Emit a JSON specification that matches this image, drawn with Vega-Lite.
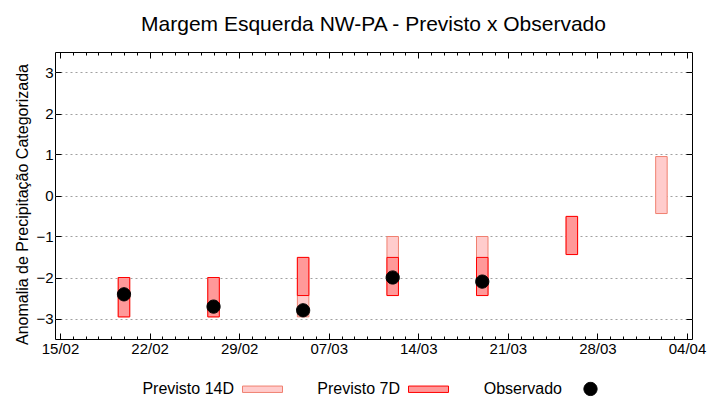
{
  "$schema": "https://vega.github.io/schema/vega-lite/v6.json",
  "width": 637,
  "height": 287,
  "autosize": {"type": "none"},
  "padding": {"left": 55, "top": 52, "right": 28, "bottom": 61},
  "background": "white",
  "title": {
    "text": "Margem Esquerda NW-PA - Previsto x Observado",
    "font": "Liberation Sans",
    "fontSize": 21,
    "fontWeight": "normal",
    "color": "black",
    "anchor": "middle",
    "baseline": "alphabetic",
    "offset": 0
  },
  "config": {
    "view": {"stroke": "black", "strokeWidth": 1},
    "axis": {
      "labelFont": "Liberation Sans",
      "labelFontSize": 15,
      "labelColor": "black",
      "titleFont": "Liberation Sans",
      "titleFontSize": 16,
      "titleFontWeight": "normal",
      "titleColor": "black",
      "tickColor": "black",
      "tickWidth": 1,
      "domain": false
    }
  },
  "layer": [
    {
      "data": {
        "values": [
          {"data": "2016-02-20", "serie": "Previsto 14D", "min": -2.96, "max": -2.0},
          {"data": "2016-02-27", "serie": "Previsto 14D", "min": -2.96, "max": -2.0},
          {"data": "2016-03-05", "serie": "Previsto 14D", "min": -2.96, "max": -1.51},
          {"data": "2016-03-12", "serie": "Previsto 14D", "min": -2.44, "max": -1.0},
          {"data": "2016-03-19", "serie": "Previsto 14D", "min": -2.44, "max": -1.0},
          {"data": "2016-03-26", "serie": "Previsto 14D", "min": -1.44, "max": -0.51},
          {"data": "2016-04-02", "serie": "Previsto 14D", "min": -0.44, "max": 0.95},
          {"data": "2016-02-20", "serie": "Previsto 7D", "min": -2.96, "max": -2.0},
          {"data": "2016-02-27", "serie": "Previsto 7D", "min": -2.96, "max": -2.0},
          {"data": "2016-03-05", "serie": "Previsto 7D", "min": -2.44, "max": -1.51},
          {"data": "2016-03-12", "serie": "Previsto 7D", "min": -2.44, "max": -1.51},
          {"data": "2016-03-19", "serie": "Previsto 7D", "min": -2.44, "max": -1.51},
          {"data": "2016-03-26", "serie": "Previsto 7D", "min": -1.44, "max": -0.51}
        ]
      },
      "mark": {"type": "bar", "size": 11.5, "strokeWidth": 1, "opacity": 1},
      "encoding": {
        "x": {
          "field": "data",
          "type": "temporal",
          "scale": {
            "type": "utc",
            "domain": [
              {"year": 2016, "month": 2, "date": 15, "utc": true},
              {"year": 2016, "month": 4, "date": 4, "utc": true}
            ]
          },
          "axis": {
            "orient": "bottom",
            "title": null,
            "tickCount": {"interval": "day", "step": 1},
            "labelExpr": "(round((datum.value - utc(2016,1,15))/864e5) % 7 == 0) ? utcFormat(datum.value, '%d/%m') : ''",
            "tickSize": {
              "condition": {"test": "round((datum.value - utc(2016,1,15))/864e5) % 7 == 0", "value": -6},
              "value": -3
            },
            "labelPadding": 8,
            "labelOverlap": false,
            "labelFlush": false,
            "grid": false
          }
        },
        "y": {
          "field": "min",
          "type": "quantitative",
          "scale": {"domain": [-3.5, 3.5], "nice": false, "zero": false},
          "axis": {
            "orient": "left",
            "title": "Anomalia de Precipitação Categorizada",
            "values": [-3, -2, -1, 0, 1, 2, 3],
            "tickSize": -6,
            "labelPadding": 8,
            "grid": true,
            "gridColor": "#a0a0a0",
            "gridDash": [2, 3],
            "gridWidth": 1,
            "titleX": -25,
            "titleY": 152,
            "titleAngle": 270,
            "titleAlign": "center",
            "titleBaseline": "bottom"
          }
        },
        "y2": {"field": "max"},
        "fill": {
          "field": "serie",
          "type": "nominal",
          "scale": {
            "domain": ["Previsto 14D", "Previsto 7D", "Observado"],
            "range": ["#ffcccc", "#ff9999", "#000000"]
          },
          "legend": {
            "title": null,
            "orient": "none",
            "legendX": 187,
            "legendY": 316,
            "direction": "horizontal",
            "labelFont": "Liberation Sans",
            "labelFontSize": 16,
            "labelColor": "black",
            "labelAlign": "right",
            "labelOffset": -49,
            "labelLimit": 0,
            "columnPadding": 32,
            "symbolSize": 1600,
            "symbolStrokeWidth": 1,
            "symbolOpacity": 1
          }
        },
        "stroke": {
          "field": "serie",
          "type": "nominal",
          "scale": {
            "domain": ["Previsto 14D", "Previsto 7D", "Observado"],
            "range": ["#f08070", "#ff0000", "#000000"]
          }
        }
      }
    },
    {
      "data": {
        "values": [
          {"data": "2016-02-20", "serie": "Observado", "valor": -2.41},
          {"data": "2016-02-27", "serie": "Observado", "valor": -2.71},
          {"data": "2016-03-05", "serie": "Observado", "valor": -2.8},
          {"data": "2016-03-12", "serie": "Observado", "valor": -2.0},
          {"data": "2016-03-19", "serie": "Observado", "valor": -2.1}
        ]
      },
      "mark": {"type": "point", "filled": true, "opacity": 1, "size": 1600, "strokeWidth": 1},
      "encoding": {
        "x": {
          "field": "data",
          "type": "temporal",
          "scale": {
            "type": "utc",
            "domain": [
              {"year": 2016, "month": 2, "date": 15, "utc": true},
              {"year": 2016, "month": 4, "date": 4, "utc": true}
            ]
          },
          "axis": {
            "orient": "top",
            "title": null,
            "tickCount": {"interval": "day", "step": 1},
            "labels": false,
            "tickSize": {
              "condition": {"test": "round((datum.value - utc(2016,1,15))/864e5) % 7 == 0", "value": -6},
              "value": -3
            },
            "grid": false
          }
        },
        "y": {
          "field": "valor",
          "type": "quantitative",
          "scale": {"domain": [-3.5, 3.5], "nice": false, "zero": false},
          "axis": {
            "orient": "right",
            "title": null,
            "values": [-3, -2, -1, 0, 1, 2, 3],
            "labels": false,
            "tickSize": -6,
            "grid": false
          }
        },
        "fill": {"field": "serie", "type": "nominal"},
        "stroke": {"field": "serie", "type": "nominal"},
        "shape": {
          "field": "serie",
          "type": "nominal",
          "scale": {
            "domain": ["Previsto 14D", "Previsto 7D", "Observado"],
            "range": [
              "M-1,-0.16H1V0.16H-1Z",
              "M-1,-0.16H1V0.16H-1Z",
              "M0.33,0A0.33,0.33,0,1,1,-0.33,0A0.33,0.33,0,1,1,0.33,0Z"
            ]
          }
        }
      }
    }
  ],
  "resolve": {"axis": {"x": "independent", "y": "independent"}}
}
